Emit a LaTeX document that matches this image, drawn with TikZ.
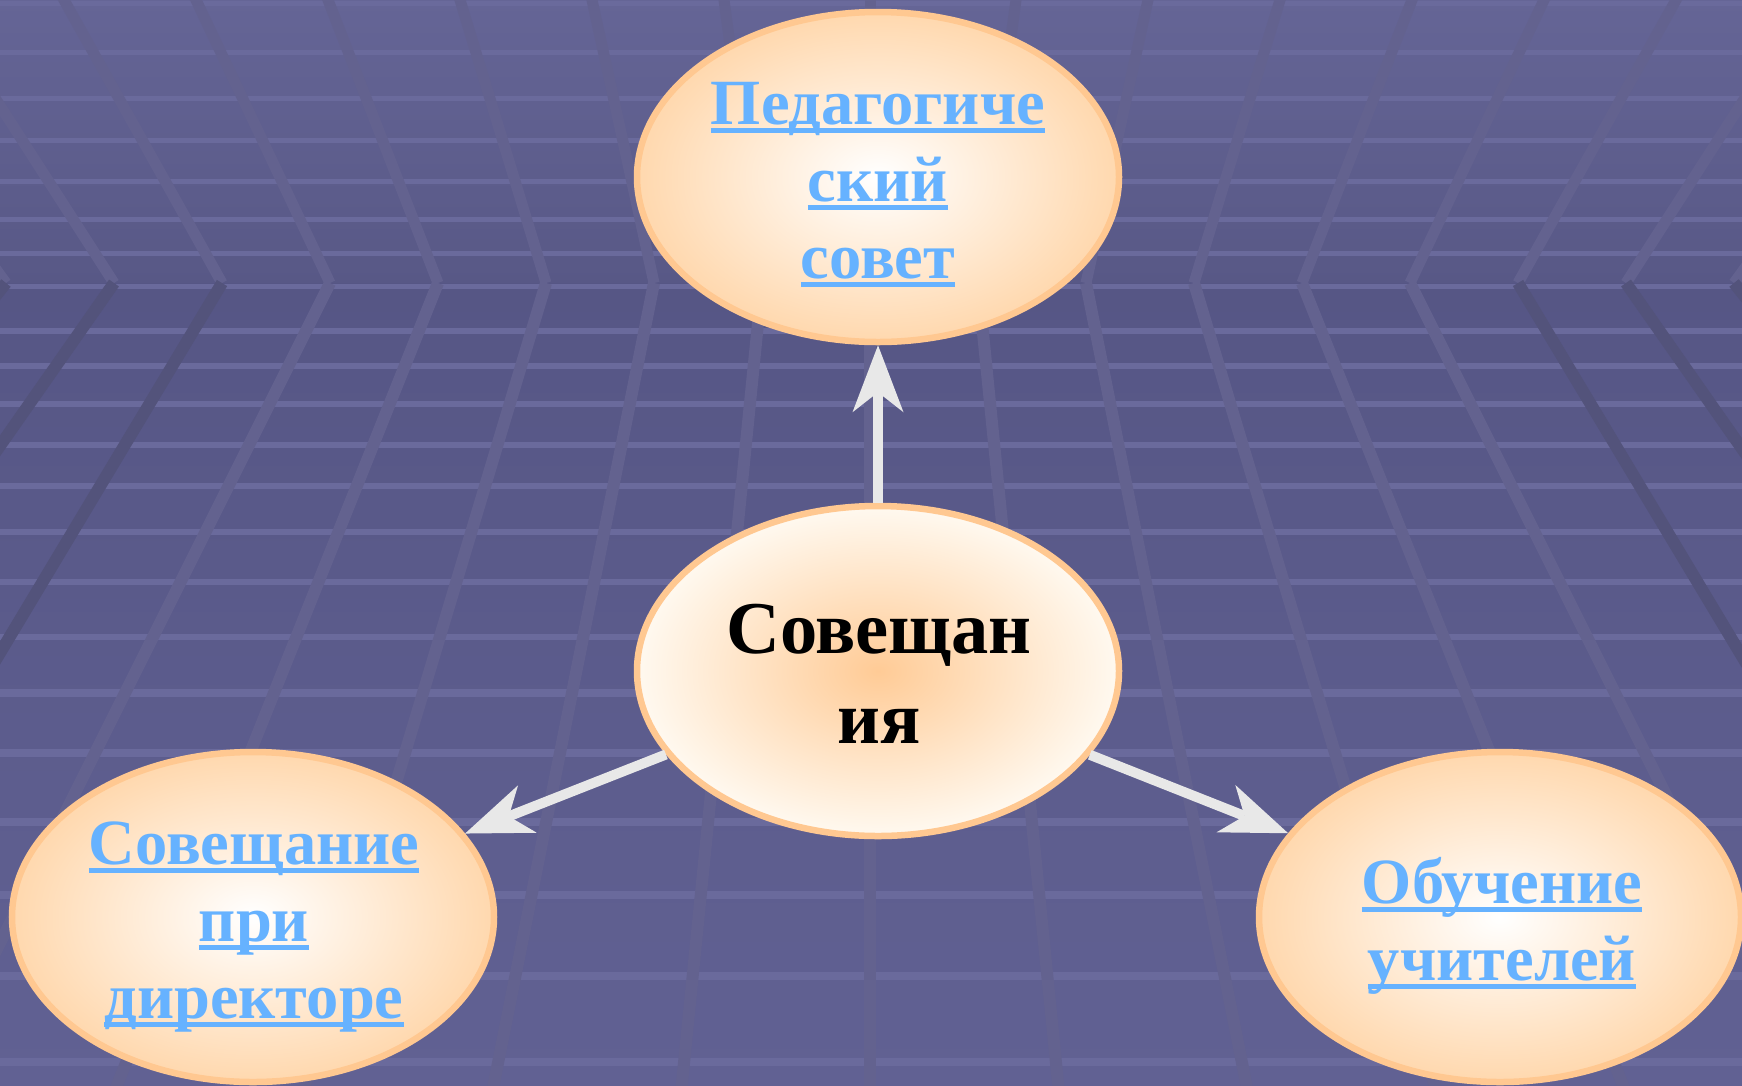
\documentclass[tikz,border=0pt]{standalone}
\usepackage{fontspec}
\setmainfont{Liberation Serif}
\usetikzlibrary{shapes.geometric,arrows.meta}
\definecolor{bgtop}{RGB}{101,101,150}
\definecolor{bghor}{RGB}{88,88,134}
\definecolor{bghorb}{RGB}{86,86,133}
\definecolor{bgbot}{RGB}{97,97,147}
\definecolor{hlinec}{RGB}{106,106,156}
\definecolor{plight}{RGB}{99,98,143}
\definecolor{pdark}{RGB}{83,83,123}
\definecolor{peach}{RGB}{255,200,145}
\definecolor{peachfill}{RGB}{255,216,174}
\definecolor{corefill}{RGB}{255,203,150}
\definecolor{rimfill}{RGB}{255,249,240}
\definecolor{linkblue}{RGB}{102,178,255}
\definecolor{arrowc}{RGB}{232,232,232}
\newsavebox\ulbox
\newcommand\ulink[1]{\sbox\ulbox{#1}\rlap{\rule[-9pt]{\wd\ulbox}{5pt}}\usebox\ulbox}
\tikzset{
  hline/.style={draw=hlinec},
  bub/.style={ellipse, draw=peach, line width=6.5pt, minimum width=482pt, minimum height=330pt, inner sep=0pt, shading=radial, inner color=white, outer color=peachfill},
  cbub/.style={bub, inner color=corefill, outer color=rimfill},
  linktxt/.style={anchor=base, inner sep=0pt, text=linkblue, font=\bfseries\fontsize{64.5}{77}\selectfont},
  maintxt/.style={anchor=base, inner sep=0pt, text=black, font=\bfseries\fontsize{74.5}{90}\selectfont},
  conn/.style={draw=arrowc, line width=10pt, -{Stealth[length=67pt,width=51pt,inset=20pt,line width=0pt,fill=arrowc]}}
}
\begin{document}
\begin{tikzpicture}[x=1pt,y=-1pt]
\useasboundingbox (0,0) rectangle (1742,1085);
\begin{scope}
\clip (0,0) rectangle (1742,1085);
\shade[top color=bgtop,bottom color=bghor] (0,0) rectangle (1742,283);
\shade[top color=bghorb,bottom color=bgbot] (0,283) rectangle (1742,1085);
% horizontal grid lines
\foreach \y in {3,52,98,140,181,219,253}
  \draw[hline,line width=5pt] (0,\y) -- (1742,\y);
\foreach \y in {286,331,366,404,445,486,532,582,637,693,753,822,895,976,1062}{
  \pgfmathsetmacro\w{5+4*(\y-283)/800}
  \draw[hline,line width=\w pt] (0,\y) -- (1742,\y);
}
% perspective lines
\foreach \k in {-8,...,8}{
  \pgfmathsetmacro\xt{870+132*\k+14*sign(\k)}
  \pgfmathsetmacro\xh{870+108*\k}
  \pgfmathsetmacro\xtt{\xt+(\xt-\xh)*0.12}
  \pgfmathsetmacro\xb{870+188.2*\k}
  \pgfmathsetmacro\xbb{\xh+(\xb-\xh)*1.05}
  \pgfmathtruncatemacro\isdark{abs(\k)>5}
  \draw[draw=plight,line width=11pt] (\xtt,-34) -- (\xh,283);
  \ifnum\isdark=1
    \draw[draw=pdark,line width=12pt] (\xh,283) -- (\xbb,1125);
  \else
    \draw[draw=plight,line width=12pt] (\xh,283) -- (\xbb,1125);
  \fi
}
\end{scope}
% bubbles
\node[bub]  (top)   at (878,177) {};
\node[cbub] (mid)   at (878,671) {};
\node[bub]  (left)  at (253,917) {};
\node[bub]  (right) at (1500,917) {};
% connectors
\draw[conn] (mid) -- (top);
\draw[conn] (mid) -- (left);
\draw[conn] (mid) -- (right);
% texts
\node[linktxt] (t1) at (878,124) {\ulink{Педагогиче}};
\node[linktxt] (t2) at (878,201) {\ulink{ский}};
\node[linktxt] (t3) at (878,278) {\ulink{совет}};
\node[maintxt] (m1) at (879,653) {Совещан};
\node[maintxt] (m2) at (879,743) {ия};
\node[linktxt] (l1) at (254,864) {\ulink{Совещание}};
\node[linktxt] (l2) at (254,941) {\ulink{при}};
\node[linktxt] (l3) at (254,1018) {\ulink{директоре}};
\node[linktxt] (r1) at (1502,903) {\ulink{Обучение}};
\node[linktxt] (r2) at (1502,980) {\ulink{учителей}};
\end{tikzpicture}
\end{document}
